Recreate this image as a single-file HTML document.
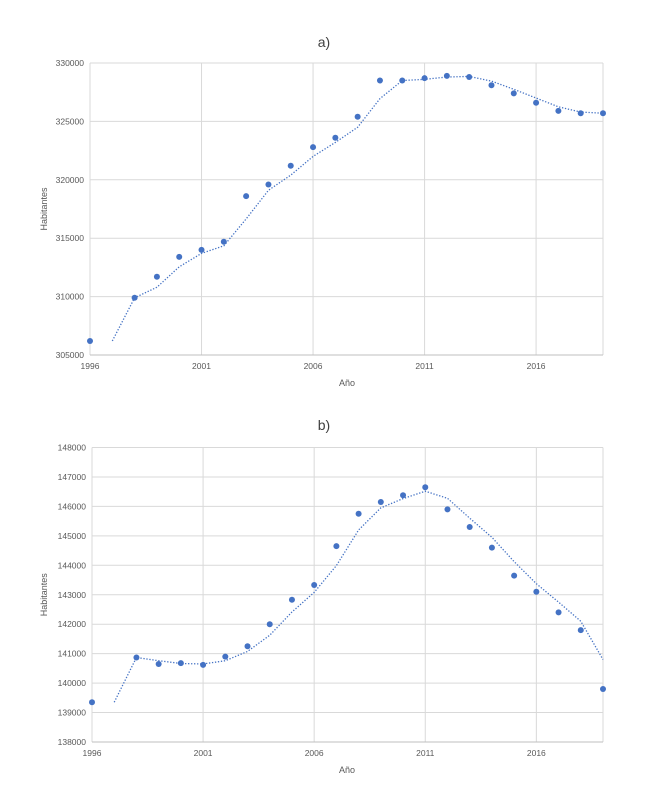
<!DOCTYPE html>
<html><head><meta charset="utf-8"><style>
body{margin:0;background:#fff;}
svg{display:block;font-family:"Liberation Sans",sans-serif;}
</style></head><body>
<svg id="s" width="648" height="792" xmlns="http://www.w3.org/2000/svg"></svg>
<script>
const s=document.getElementById('s');let h='';
function chart(o){
 const {L,R,T,B,ymin,ymax,step,pts,title,ty,ay}=o;
 const X=y=>L+(y-1996)*(R-L)/23, Y=v=>B-(v-ymin)*(B-T)/(ymax-ymin);
 h+=`<text x="324" y="${ty}" font-size="14" fill="#404040" text-anchor="middle">${title}</text>`;
 for(let v=ymin;v<=ymax;v+=step){const y=Y(v);
  h+=`<line x1="${L}" x2="${R}" y1="${y}" y2="${y}" stroke="#d9d9d9" stroke-width="1"/>`;
  h+=`<text x="${L-6}" y="${y+3}" font-size="8.5" fill="#595959" text-anchor="end">${v}</text>`;}
 for(let yr=1996;yr<=2016;yr+=5){const x=X(yr);
  h+=`<line x1="${x}" x2="${x}" y1="${T}" y2="${B}" stroke="#d9d9d9"/>`;
  h+=`<text x="${x}" y="${B+14}" font-size="8.5" fill="#595959" text-anchor="middle">${yr}</text>`;}
 h+=`<line x1="${R}" x2="${R}" y1="${T}" y2="${B}" stroke="#d9d9d9"/>`;
 h+=`<line x1="${L}" x2="${R}" y1="${B}" y2="${B}" stroke="#bfbfbf"/>`;
 h+=`<text x="347" y="${ay}" font-size="9" fill="#595959" text-anchor="middle">Año</text>`;
 const cy=(T+B)/2;
 h+=`<text transform="translate(47,${cy}) rotate(-90)" font-size="9" fill="#595959" text-anchor="middle">Habitantes</text>`;
 // trend
 const yrs=Object.keys(pts).map(Number);let tr=[];
 for(let yr=1997;yr<=2019;yr++){const a=pts[yr-1],b=pts[yr];let v;
  if(a!==undefined&&b!==undefined)v=(a+b)/2;else v=a!==undefined?a:b;tr.push(X(yr)+','+Y(v));}
 h+=`<polyline points="${tr.join(' ')}" fill="none" stroke="#4472c4" stroke-width="1.3" stroke-dasharray="1.3,1.7"/>`;
 yrs.forEach(yr=>{h+=`<circle cx="${X(yr)}" cy="${Y(pts[yr])}" r="3" fill="#4472c4"/>`;});
}
chart({L:90,R:603,T:63,B:355,ymin:305000,ymax:330000,step:5000,title:'a)',ty:47,ay:386,
 pts:{1996:306200,1998:309900,1999:311700,2000:313400,2001:314000,2002:314700,2003:318600,2004:319600,2005:321200,2006:322800,2007:323600,2008:325400,2009:328500,2010:328500,2011:328700,2012:328900,2013:328800,2014:328100,2015:327400,2016:326600,2017:325900,2018:325700,2019:325700}});
chart({L:92,R:603,T:447.5,B:742,ymin:138000,ymax:148000,step:1000,title:'b)',ty:430,ay:773,
 pts:{1996:139350,1998:140870,1999:140650,2000:140680,2001:140620,2002:140900,2003:141250,2004:142000,2005:142830,2006:143330,2007:144650,2008:145750,2009:146150,2010:146380,2011:146650,2012:145900,2013:145300,2014:144600,2015:143650,2016:143100,2017:142400,2018:141800,2019:139800}});
s.innerHTML=h;
</script>
</body></html>
